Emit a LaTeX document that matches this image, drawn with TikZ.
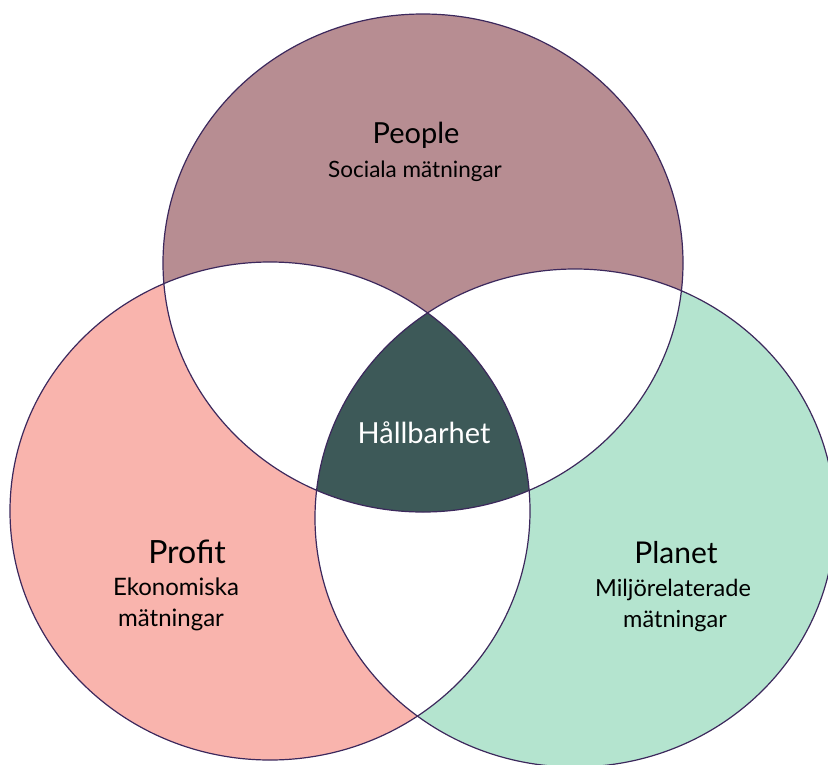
\documentclass[tikz,border=0pt]{standalone}
\usepackage{fontspec}
\setmainfont{Lato}
\definecolor{peoplefill}{HTML}{B78D92}
\definecolor{profitfill}{HTML}{F9B4AD}
\definecolor{planetfill}{HTML}{B4E4CF}
\definecolor{corefill}{HTML}{3D5958}
\definecolor{rim}{RGB}{60,40,92}
% the three sets of the Venn diagram
\newcommand\peopleshape{(423,263) ellipse [x radius=260pt, y radius=249pt]}
\newcommand\profitshape{(270,511) ellipse [x radius=260pt, y radius=249pt]}
\newcommand\planetshape{(575,518) ellipse [x radius=260pt, y radius=249pt]}
\tikzset{
  title/.style={font=\fontsize{29}{34}\selectfont, anchor=base, inner sep=0pt},
  subtitle/.style={font=\fontsize{22.5}{27}\selectfont, anchor=base, inner sep=0pt},
  rimline/.style={draw=rim, line width=1.2pt}
}
\begin{document}
\begin{tikzpicture}[x=1pt,y=-1pt]
\useasboundingbox (0,0) rectangle (828,764);
% base fills
\fill[peoplefill] \peopleshape;
\fill[profitfill] \profitshape;
\fill[planetfill] \planetshape;
% pairwise overlaps are left white
\begin{scope}\clip \peopleshape; \fill[white] \profitshape; \fill[white] \planetshape;\end{scope}
\begin{scope}\clip \profitshape; \fill[white] \planetshape;\end{scope}
% the common core
\begin{scope}\clip \peopleshape; \clip \profitshape; \fill[corefill] \planetshape;\end{scope}
% outlines
\draw[rimline] \peopleshape;
\draw[rimline] \profitshape;
\draw[rimline] \planetshape;
% labels
\node[title] (people) at (416,143) {People};
\node[subtitle] (peoplesub) at (415,177) {Sociala mätningar};
\node[title, text=white] (core) at (424,443) {Hållbarhet};
\node[title, font=\fontsize{32}{36}\selectfont] (profit) at (187,563) {Profit};
\node[subtitle, font=\fontsize{24}{28}\selectfont] (profitsub1) at (176,595) {Ekonomiska};
\node[subtitle, font=\fontsize{24}{28}\selectfont] (profitsub2) at (171,626) {mätningar};
\node[title, font=\fontsize{30}{35}\selectfont] (planet) at (676,563) {Planet};
\node[subtitle, font=\fontsize{23.5}{28}\selectfont] (planetsub1) at (673,596) {Miljörelaterade};
\node[subtitle, font=\fontsize{23.5}{28}\selectfont] (planetsub2) at (675,627) {mätningar};
\end{tikzpicture}
\end{document}
